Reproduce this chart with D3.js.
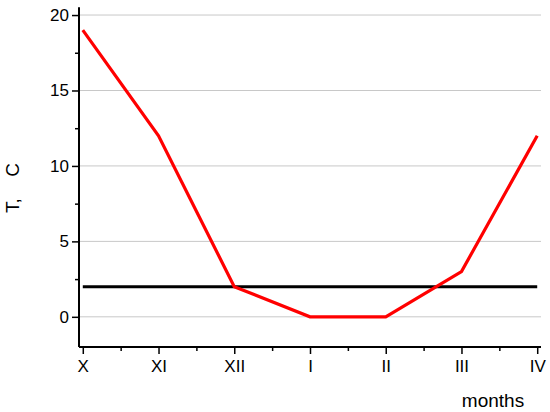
<!DOCTYPE html>
<html><head><meta charset="utf-8">
<script src="https://cdn.jsdelivr.net/npm/d3@7"></script>
<style>body{margin:0;background:#fff}svg{display:block}text{font-family:"Liberation Sans",Arial,sans-serif;fill:#000}</style>
</head><body>
<script>
const months = ["X","XI","XII","I","II","III","IV"];
const temps = [19, 12, 2, 0, 0, 3, 12];
const threshold = [2, 2, 2, 2, 2, 2, 2];
const yTicks = [0, 5, 10, 15, 20];

const W = 550, H = 412;
const svg = d3.select("body").append("svg").attr("width", W).attr("height", H);
const x = d3.scaleLinear().domain([-0.05, 6.05]).range([79, 541]);
const y = d3.scaleLinear().domain([-2, 20.5]).range([347, 7.5]);

// grid
svg.append("g").selectAll("line").data(yTicks).join("line")
  .attr("x1", 79).attr("x2", 541).attr("y1", d => y(d)).attr("y2", d => y(d))
  .attr("stroke", "#c8c8c8").attr("stroke-width", 1);

// y axis
const yAxis = svg.append("g").attr("transform", "translate(79,0)");
yAxis.call(d3.axisLeft(y).tickValues(yTicks).tickSize(7).tickPadding(3).tickFormat(d3.format("d")));
yAxis.append("g").call(d3.axisLeft(y).tickValues([2.5, 7.5, 12.5, 17.5]).tickSize(4).tickFormat(""));
yAxis.selectAll("text").attr("font-size", 17).attr("font-family", "Liberation Sans, Arial, sans-serif");
yAxis.selectAll(".domain").attr("stroke-width", 2);
yAxis.selectAll("line").attr("stroke-width", 1.5);
yAxis.selectAll(".domain").attr("d", `M0,${y(-2)}V${y(20.5)}`);

// x axis
const xAxis = svg.append("g").attr("transform", `translate(0,${y(-2)})`);
xAxis.call(d3.axisBottom(x).tickValues(d3.range(7)).tickSize(7).tickPadding(6).tickFormat(i => months[i]));
xAxis.append("g").call(d3.axisBottom(x).tickValues(d3.range(0.5, 6, 1)).tickSize(4).tickFormat(""));
xAxis.selectAll("text").attr("font-size", 17).attr("font-family", "Liberation Sans, Arial, sans-serif");
xAxis.selectAll(".domain").attr("stroke-width", 2).attr("d", `M79,0H541`);
xAxis.selectAll("line").attr("stroke-width", 1.5);

// lines
const line = d3.line().x((d, i) => x(i)).y(d => y(d));
svg.append("path").datum(threshold).attr("d", line).attr("fill", "none").attr("stroke", "#000").attr("stroke-width", 3);
svg.append("path").datum(temps).attr("d", line).attr("fill", "none").attr("stroke", "#ff0000").attr("stroke-width", 3.2);

// labels
const yl = svg.append("g").attr("transform", "translate(19,213) rotate(-90)");
yl.append("text").attr("x", 0).attr("font-size", 19).text("T,");
yl.append("text").attr("x", 50).attr("text-anchor", "end").attr("font-size", 19).text("C");
svg.append("text").attr("x", 493).attr("y", 407).attr("text-anchor", "middle").attr("font-size", 19).text("months");
</script>
</body></html>
